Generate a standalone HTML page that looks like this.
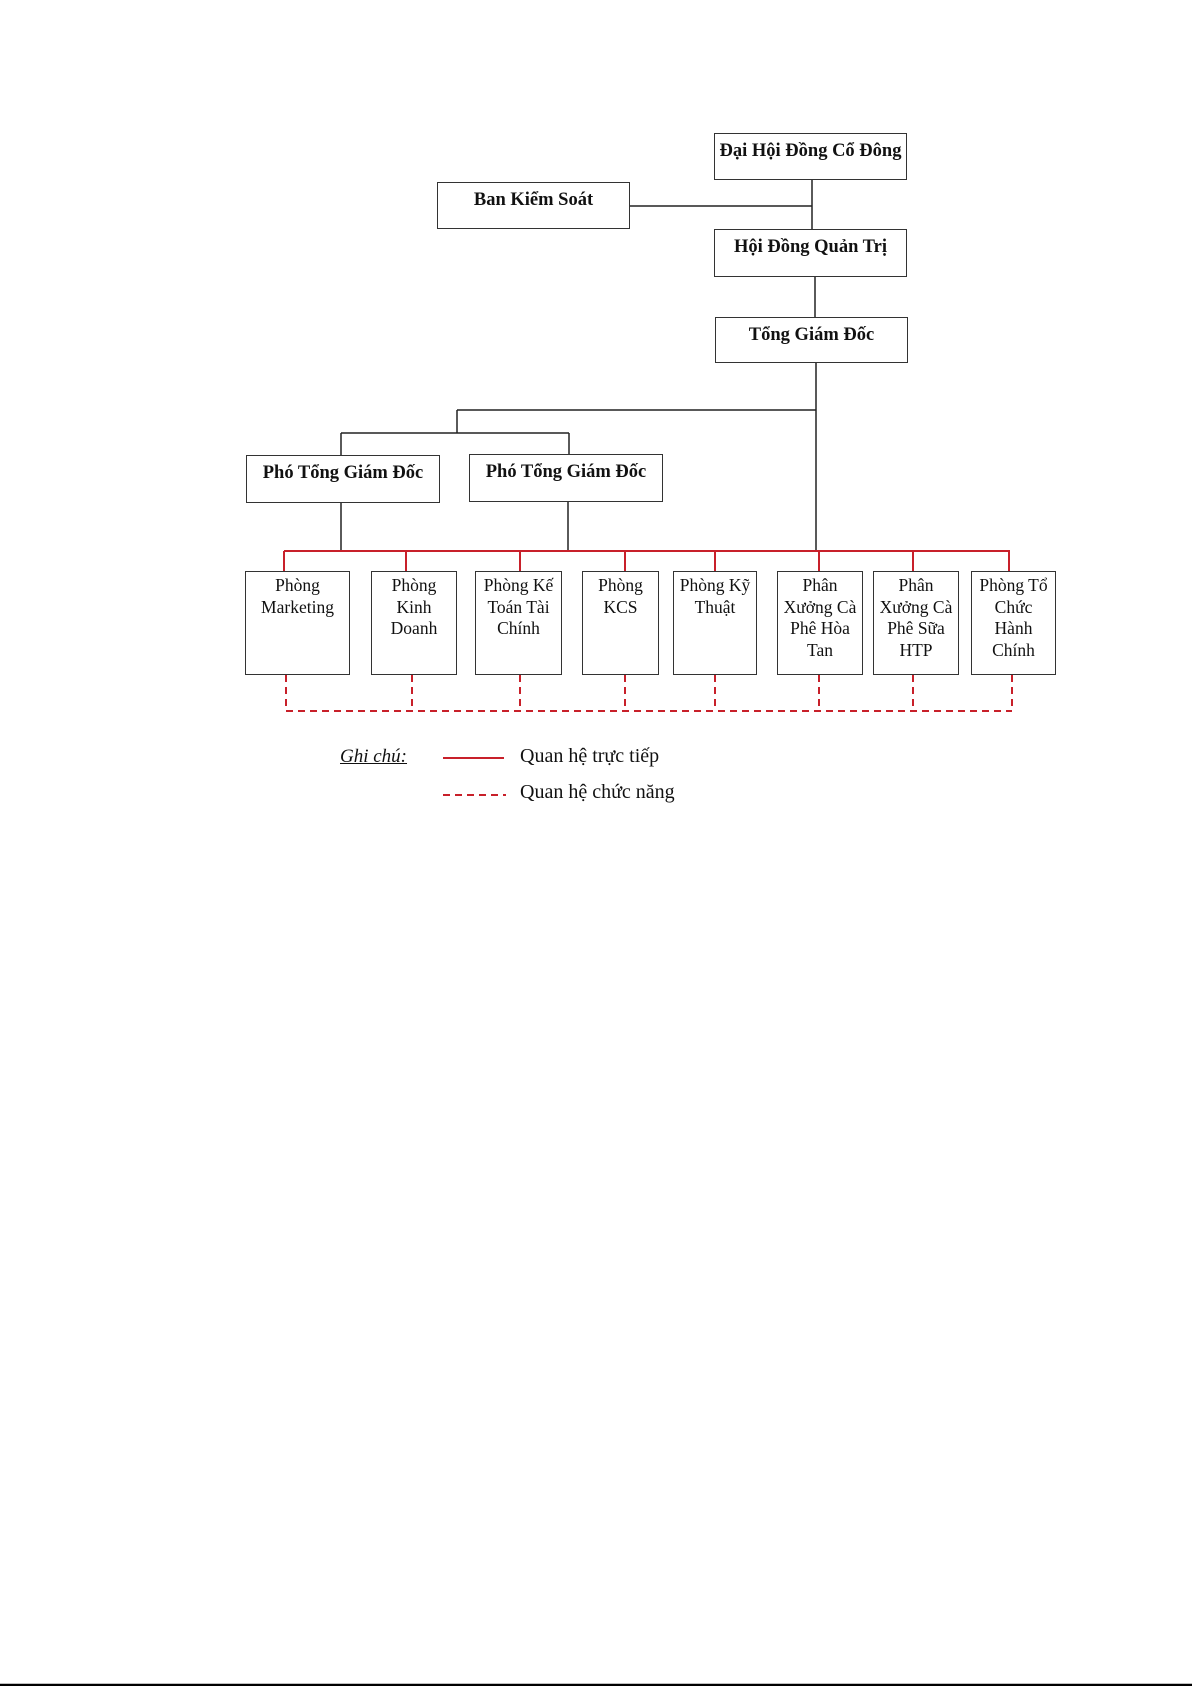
<!DOCTYPE html>
<html><head><meta charset="utf-8">
<style>
html,body{margin:0;padding:0;background:#fff;}
body{width:1192px;height:1686px;position:relative;overflow:hidden;font-family:"Liberation Serif",serif;color:#111;}
.b{position:absolute;box-sizing:border-box;border:1.5px solid #333;background:#fff;text-align:center;}
.t{font-weight:bold;font-size:18.5px;padding-top:7px;white-space:nowrap;}
.d{font-size:17.5px;line-height:21.5px;padding-top:3px;}
.tx{position:absolute;white-space:nowrap;}
</style></head><body>
<svg width="1192" height="1686" style="position:absolute;left:0;top:0">
<g stroke="#222" stroke-width="1.5" fill="none">
<line x1="629" y1="206" x2="812" y2="206"/>
<line x1="812" y1="180" x2="812" y2="229"/>
<line x1="815" y1="277" x2="815" y2="317"/>
<line x1="816" y1="363" x2="816" y2="551"/>
<line x1="457" y1="410" x2="816" y2="410"/>
<line x1="457" y1="410" x2="457" y2="433"/>
<line x1="341" y1="433" x2="569" y2="433"/>
<line x1="341" y1="433" x2="341" y2="455"/>
<line x1="569" y1="433" x2="569" y2="455"/>
<line x1="341" y1="503" x2="341" y2="551"/>
<line x1="568" y1="502" x2="568" y2="551"/>
</g>
<g stroke="#c8202a" stroke-width="2" fill="none">
<line x1="284" y1="551" x2="1010" y2="551"/>
<line x1="284" y1="551" x2="284" y2="571"/>
<line x1="406" y1="551" x2="406" y2="571"/>
<line x1="520" y1="551" x2="520" y2="571"/>
<line x1="625" y1="551" x2="625" y2="571"/>
<line x1="715" y1="551" x2="715" y2="571"/>
<line x1="819" y1="551" x2="819" y2="571"/>
<line x1="913" y1="551" x2="913" y2="571"/>
<line x1="1009" y1="551" x2="1009" y2="571"/>
<line x1="443" y1="758" x2="504" y2="758"/>
</g>
<g stroke="#c8202a" stroke-width="2" fill="none" stroke-dasharray="7,5">
<line x1="286" y1="711" x2="1012" y2="711"/>
<line x1="286" y1="675" x2="286" y2="711"/>
<line x1="412" y1="675" x2="412" y2="711"/>
<line x1="520" y1="675" x2="520" y2="711"/>
<line x1="625" y1="675" x2="625" y2="711"/>
<line x1="715" y1="675" x2="715" y2="711"/>
<line x1="819" y1="675" x2="819" y2="711"/>
<line x1="913" y1="675" x2="913" y2="711"/>
<line x1="1012" y1="675" x2="1012" y2="711"/>
<line x1="443" y1="795" x2="506" y2="795"/>
</g>
<line x1="0" y1="1685" x2="1192" y2="1685" stroke="#000" stroke-width="2.5"/>
</svg>

<div class="b t" style="left:714px;top:133px;width:193px;height:47px;">Đại Hội Đồng Cổ Đông</div>
<div class="b t" style="left:437px;top:182px;width:193px;height:47px;">Ban Kiểm Soát</div>
<div class="b t" style="left:714px;top:229px;width:193px;height:48px;">Hội Đồng Quản Trị</div>
<div class="b t" style="left:715px;top:317px;width:193px;height:46px;">Tổng Giám Đốc</div>
<div class="b t" style="left:246px;top:455px;width:194px;height:48px;">Phó Tổng Giám Đốc</div>
<div class="b t" style="left:469px;top:454px;width:194px;height:48px;">Phó Tổng Giám Đốc</div>

<div class="b d" style="left:245px;top:571px;width:105px;height:104px;">Phòng<br>Marketing</div>
<div class="b d" style="left:371px;top:571px;width:86px;height:104px;">Phòng<br>Kinh<br>Doanh</div>
<div class="b d" style="left:475px;top:571px;width:87px;height:104px;white-space:nowrap;">Phòng Kế<br>Toán Tài<br>Chính</div>
<div class="b d" style="left:582px;top:571px;width:77px;height:104px;">Phòng<br>KCS</div>
<div class="b d" style="left:673px;top:571px;width:84px;height:104px;white-space:nowrap;">Phòng Kỹ<br>Thuật</div>
<div class="b d" style="left:777px;top:571px;width:86px;height:104px;white-space:nowrap;">Phân<br>Xưởng Cà<br>Phê Hòa<br>Tan</div>
<div class="b d" style="left:873px;top:571px;width:86px;height:104px;white-space:nowrap;">Phân<br>Xưởng Cà<br>Phê Sữa<br>HTP</div>
<div class="b d" style="left:971px;top:571px;width:85px;height:104px;white-space:nowrap;">Phòng Tổ<br>Chức<br>Hành<br>Chính</div>

<div class="tx" style="left:340px;top:746px;font-size:19px;font-style:italic;text-decoration:underline;">Ghi chú:</div>
<div class="tx" style="left:520px;top:745px;font-size:20px;">Quan hệ trực tiếp</div>
<div class="tx" style="left:520px;top:781px;font-size:20px;">Quan hệ chức năng</div>
</body></html>
